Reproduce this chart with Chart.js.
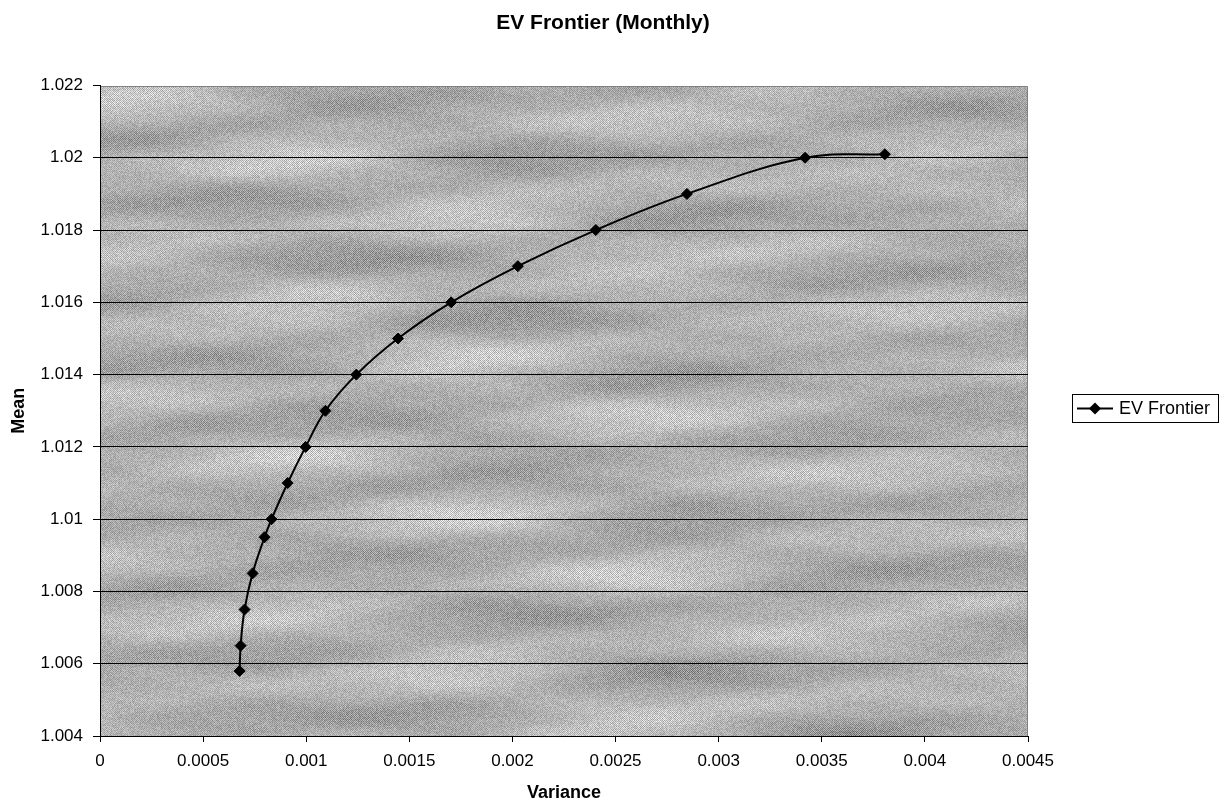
<!DOCTYPE html>
<html>
<head>
<meta charset="utf-8">
<title>EV Frontier (Monthly)</title>
<script src="https://cdn.jsdelivr.net/npm/chart.js@4.4.1/dist/chart.umd.min.js"></script>
<style>
  html, body { margin: 0; padding: 0; background: #ffffff; }
  #wrap { width: 1231px; height: 805px; position: relative; }
</style>
</head>
<body>
<div id="wrap"><canvas id="chart" width="1231" height="805"></canvas></div>
<script>
// Efficient frontier points: portfolio variance vs. mean gross return (monthly)
const seriesName = 'EV Frontier';
const variance = [0.000677, 0.000682, 0.000701, 0.000740, 0.000798, 0.000832, 0.000910, 0.000997,
                  0.001093, 0.001243, 0.001445, 0.001703, 0.002026, 0.002404, 0.002846, 0.003419, 0.003806];
const mean     = [1.0058, 1.0065, 1.0075, 1.0085, 1.0095, 1.0100, 1.0110, 1.0120,
                  1.0130, 1.0140, 1.0150, 1.0160, 1.0170, 1.0180, 1.0190, 1.0200, 1.0201];

const xTickValues = [0, 0.0005, 0.001, 0.0015, 0.002, 0.0025, 0.003, 0.0035, 0.004, 0.0045];
const xTickLabels = ['0', '0.0005', '0.001', '0.0015', '0.002', '0.0025', '0.003', '0.0035', '0.004', '0.0045'];
const yTickValues = [1.004, 1.006, 1.008, 1.010, 1.012, 1.014, 1.016, 1.018, 1.020, 1.022];
const yTickLabels = ['1.004', '1.006', '1.008', '1.01', '1.012', '1.014', '1.016', '1.018', '1.02', '1.022'];

const chartTitle = 'EV Frontier (Monthly)';
const xTitle = 'Variance';
const yTitle = 'Mean';

const FONT = '"Liberation Sans", Arial, Helvetica, sans-serif';

// Grey streaky textured fill for the plot area (deterministic pattern)
function makeTexture(w, h) {
  const c = document.createElement('canvas');
  c.width = w; c.height = h;
  const g = c.getContext('2d');
  const img = g.createImageData(w, h);
  const hash = (x, y) => {
    const s = Math.sin(x * 12.9898 + y * 78.233) * 43758.5453;
    return s - Math.floor(s);
  };
  for (let y = 0; y < h; y++) {
    for (let x = 0; x < w; x++) {
      const f =
        0.40 * Math.sin(x * 0.011 + y * 0.021 + 1.3) * Math.sin(y * 0.061 + 0.4) +
        0.30 * Math.sin(x * 0.006 - y * 0.013 + 2.1) * Math.sin(y * 0.097 + x * 0.002) +
        0.20 * Math.sin(x * 0.019 + 0.7) * Math.sin(y * 0.043 + 1.9) +
        0.15 * Math.sin(x * 0.031 + y * 0.005) * Math.sin(y * 0.19 + 0.8);
      const checker = ((x + y) & 1) ? 1 : -1;
      const n = hash(x, y) - 0.5;
      let v = 176 + 36 * f + 22 * checker * (0.5 + Math.abs(f)) + 40 * n;
      v = Math.max(80, Math.min(245, v));
      const i = (y * w + x) * 4;
      img.data[i] = img.data[i + 1] = img.data[i + 2] = v;
      img.data[i + 3] = 255;
    }
  }
  g.putImageData(img, 0, 0);
  return c;
}

let texture = null;
const plotBackground = {
  id: 'plotBackground',
  beforeDraw(chart) {
    const a = chart.chartArea;
    const ctx = chart.ctx;
    const w = Math.round(a.right - a.left), h = Math.round(a.bottom - a.top);
    if (!texture || texture.width !== w || texture.height !== h) texture = makeTexture(w, h);
    ctx.save();
    ctx.drawImage(texture, Math.round(a.left), Math.round(a.top));
    ctx.strokeStyle = '#808080';
    ctx.lineWidth = 1;
    ctx.beginPath();
    ctx.moveTo(Math.round(a.left) + 0.5, Math.round(a.top) + 0.5);
    ctx.lineTo(Math.round(a.right) - 0.5, Math.round(a.top) + 0.5);
    ctx.lineTo(Math.round(a.right) - 0.5, Math.round(a.bottom));
    ctx.stroke();
    ctx.restore();
  }
};

// Chart title and boxed legend drawn onto the canvas
const titleAndLegend = {
  id: 'titleAndLegend',
  afterDraw(chart) {
    const ctx = chart.ctx;
    ctx.save();
    ctx.fillStyle = '#000';
    ctx.font = 'bold 21px ' + FONT;
    ctx.textAlign = 'center';
    ctx.textBaseline = 'alphabetic';
    ctx.fillText(chartTitle, 603, 28.5);

    const ds = chart.data.datasets[0];
    const bx = 1072.5, by = 394.5, bw = 146, bh = 28;
    ctx.fillStyle = '#fff';
    ctx.fillRect(bx, by, bw, bh);
    ctx.strokeStyle = '#000';
    ctx.lineWidth = 1;
    ctx.strokeRect(bx, by, bw, bh);
    const cy = by + bh / 2;
    ctx.lineWidth = 2;
    ctx.beginPath();
    ctx.moveTo(1077, cy);
    ctx.lineTo(1113, cy);
    ctx.stroke();
    ctx.fillStyle = '#000';
    ctx.beginPath();
    ctx.moveTo(1095 - 6, cy);
    ctx.lineTo(1095, cy - 6);
    ctx.lineTo(1095 + 6, cy);
    ctx.lineTo(1095, cy + 6);
    ctx.closePath();
    ctx.fill();
    ctx.font = '18px ' + FONT;
    ctx.textAlign = 'left';
    ctx.textBaseline = 'middle';
    ctx.fillText(ds.label, 1119, cy + 1);
    ctx.restore();
  }
};

const points = variance.map((v, i) => ({ x: v, y: mean[i] }));

new Chart(document.getElementById('chart'), {
  type: 'scatter',
  data: {
    datasets: [{
      label: seriesName,
      data: points,
      showLine: true,
      tension: 0.4,
      borderColor: '#000',
      borderWidth: 2,
      pointStyle: 'rectRot',
      pointRadius: 5.5,
      pointHoverRadius: 5.5,
      pointBackgroundColor: '#000',
      pointBorderColor: '#000',
      pointBorderWidth: 1
    }]
  },
  options: {
    responsive: false,
    animation: false,
    events: [],
    layout: { padding: { top: 85.5, left: 0, right: 203, bottom: 0 } },
    plugins: {
      legend: { display: false },
      title: { display: false },
      tooltip: { enabled: false }
    },
    scales: {
      x: {
        type: 'linear',
        min: 0,
        max: 0.0045,
        afterBuildTicks(scale) { scale.ticks = xTickValues.map(v => ({ value: v })); },
        afterFit(scale) { scale.height = 69; },
        ticks: {
          color: '#000',
          font: { family: FONT, size: 17 },
          padding: 9,
          maxRotation: 0,
          autoSkip: false,
          callback: (value, index) => xTickLabels[index]
        },
        grid: { drawOnChartArea: false, drawTicks: true, tickLength: 6, color: '#000', tickColor: '#000' },
        border: { display: true, color: '#000', width: 1 },
        title: {
          display: true,
          text: xTitle,
          color: '#000',
          font: { family: FONT, size: 18, weight: 'bold' },
          padding: { top: 0, bottom: 1 }
        }
      },
      y: {
        type: 'linear',
        min: 1.004,
        max: 1.022,
        afterBuildTicks(scale) { scale.ticks = yTickValues.map(v => ({ value: v })); },
        afterFit(scale) { scale.width = 100; },
        ticks: {
          color: '#000',
          font: { family: FONT, size: 17 },
          padding: 10,
          autoSkip: false,
          callback: (value, index) => yTickLabels[index]
        },
        grid: {
          drawOnChartArea: true,
          drawTicks: true,
          tickLength: 7,
          lineWidth: 1,
          tickColor: '#000',
          color: (c) => (c.tick && Math.abs(c.tick.value - 1.022) < 1e-9) ? 'rgba(0,0,0,0)' : '#000'
        },
        border: { display: true, color: '#000', width: 1 },
        title: {
          display: true,
          text: yTitle,
          color: '#000',
          font: { family: FONT, size: 18, weight: 'bold' },
          padding: { top: 8, bottom: 0 }
        }
      }
    }
  },
  plugins: [plotBackground, titleAndLegend]
});
</script>
</body>
</html>
